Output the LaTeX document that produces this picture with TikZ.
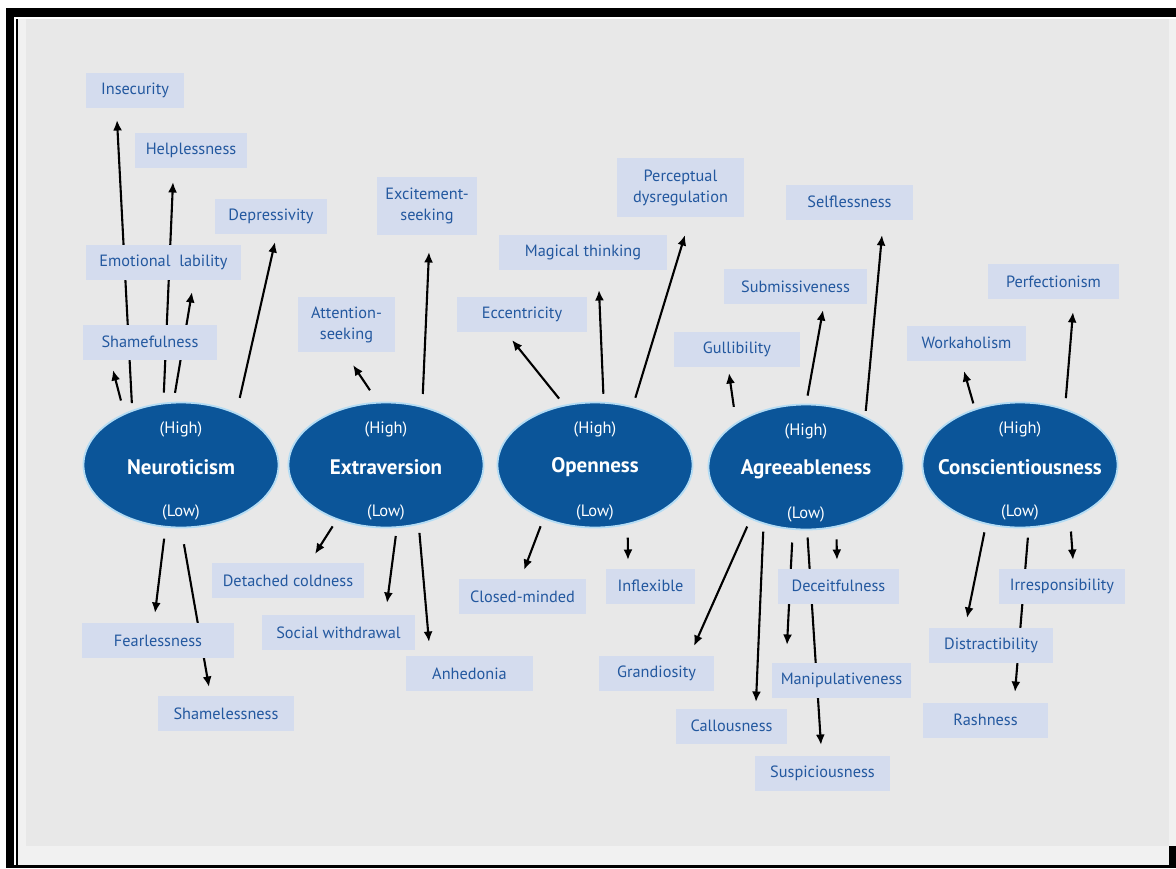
\documentclass[tikz,border=0pt]{standalone}
\usepackage{fontspec}
\setmainfont{PT Sans}
\usetikzlibrary{arrows.meta,shapes.geometric}

\definecolor{pagebg}{HTML}{E8E8E8}
\definecolor{rimbg}{HTML}{F1F1F1}
\definecolor{traitblue}{HTML}{0B5599}
\definecolor{halo}{HTML}{B4DCF4}
\definecolor{boxfill}{HTML}{D4DCEE}
\definecolor{boxtext}{HTML}{23589F}

\tikzset{
  trait/.style={ellipse, fill=traitblue, draw=halo, line width=1.8pt,
    minimum width=195pt, minimum height=125pt, inner sep=0pt, outer sep=0pt},
  pole/.style={text=white, font=\fontsize{16.5}{18}\selectfont, inner sep=0pt},
  traitname/.style={text=white, font=\fontsize{21}{23}\selectfont\bfseries, inner sep=0pt},
  facet/.style={fill=boxfill, text=boxtext, font=\fontsize{16.3}{21}\selectfont,
    minimum height=35pt, inner sep=0pt, align=center},
  arr/.style={draw=black, line width=2.1pt, -{Latex[length=10.5pt,width=9pt]}},
}

\begin{document}
\begin{tikzpicture}[x=1pt,y=-1pt]
% frame and page
\fill[white] (0,0) rectangle (1176,868);
\useasboundingbox (0,0) rectangle (1176,868);
\fill[black] (6,8) rectangle (1176,868);
\fill[white] (14,16.7) rectangle (1176,865);
\fill[black] (16,18.7) rectangle (18,865);
\fill[rimbg] (18,18.7) rectangle (1176,865);
\fill[pagebg] (26,19) rectangle (1169,846);
\fill[black] (1169,846) rectangle (1176,868);

% the five traits
\node[trait] (neu) at (181,465) {};
\node[trait] (ext) at (386,465) {};
\node[trait] (ope) at (595,465) {};
\node[trait] (agr) at (806,467) {};
\node[trait] (con) at (1020,465) {};

\foreach \t/\name in {neu/Neuroticism, ext/Extraversion, ope/Openness,
                      agr/Agreeableness, con/Conscientiousness}{
  \node[pole] (\t-hi) at ([yshift=36pt]\t.center) {(High)};
  \node[traitname] (\t-nm) at ([yshift=-2pt]\t.center) {\name};
  \node[pole] (\t-lo) at ([yshift=-47pt]\t.center) {(Low)};
}

% arrow tips
\coordinate (h-sham) at (113,370);
\coordinate (h-ins)  at (117,120);
\coordinate (h-help) at (173,182);
\coordinate (h-emo)  at (192,292);
\coordinate (h-dep)  at (275,242);
\coordinate (h-fear) at (155,613);
\coordinate (h-shl)  at (209,687);
\coordinate (h-att)  at (353,365);
\coordinate (h-exc)  at (429,252);
\coordinate (h-det)  at (315,554);
\coordinate (h-soc)  at (387,603);
\coordinate (h-anh)  at (429,642);
\coordinate (h-ecc)  at (512,340);
\coordinate (h-mag)  at (599,290);
\coordinate (h-per)  at (685,235);
\coordinate (h-clo)  at (524,570);
\coordinate (h-infl) at (628,560);
\coordinate (h-gul)  at (729,373);
\coordinate (h-sub)  at (823,310);
\coordinate (h-self) at (882,235);
\coordinate (h-gra)  at (694,646);
\coordinate (h-cal)  at (756,702);
\coordinate (h-man)  at (787,645);
\coordinate (h-sus)  at (821,745);
\coordinate (h-dec)  at (837,560);
\coordinate (h-work) at (964,371);
\coordinate (h-perf) at (1073,312);
\coordinate (h-dis)  at (967,618);
\coordinate (h-rash) at (1015,692);
\coordinate (h-irr)  at (1073,560);

% Neuroticism
\draw[arr, shorten <=14pt]   (neu.138.4) -- (h-sham);
\draw[arr, shorten <=7.7pt]  (neu.132.4) -- (h-ins);
\draw[arr, shorten <=11pt]   (neu.106.6) -- (h-help);
\draw[arr, shorten <=10pt]   (neu.97)    -- (h-emo);
\draw[arr, shorten <=16pt]   (neu.43.2)  -- (h-dep);
\draw[arr, shorten <=12pt]   (neu.256.9) -- (h-fear);
\draw[arr, shorten <=17pt]   (neu.270)   -- (h-shl);
% Extraversion
\draw[arr, shorten <=15pt]   (ext.97)    -- (h-att);
\draw[arr, shorten <=13pt]   (ext.58.9)  -- (h-exc);
\draw[arr, shorten <=8.6pt]  (ext.228.7) -- (h-det);
\draw[arr, shorten <=9pt]    (ext.280.2) -- (h-soc);
\draw[arr, shorten <=9pt]    (ext.299.4) -- (h-anh);
% Openness
\draw[arr, shorten <=9pt]    (ope.117.7) -- (h-ecc);
\draw[arr, shorten <=9pt]    (ope.82.4)  -- (h-mag);
\draw[arr, shorten <=10pt]   (ope.57.6)  -- (h-per);
\draw[arr, shorten <=8.7pt]  (ope.226.7) -- (h-clo);
\draw[arr, shorten <=13.7pt] (ope.299.1) -- (h-infl);
% Agreeableness
\draw[arr, shorten <=16.7pt] (agr.148.6) -- (h-gul);
\draw[arr, shorten <=9pt]    (agr.90.6)  -- (h-sub);
\draw[arr, shorten <=6.5pt]  (agr.40.8)  -- (h-self);
\draw[arr, shorten <=8.8pt]  (agr.223.2) -- (h-gra);
\draw[arr, shorten <=8.3pt]  (agr.233)   -- (h-cal);
\draw[arr, shorten <=13.6pt] (agr.258)   -- (h-man);
\draw[arr, shorten <=8pt]    (agr.271.4) -- (h-sus);
\draw[arr, shorten <=13pt]   (agr.297.4) -- (h-dec);
% Conscientiousness
\draw[arr, shorten <=6.4pt]  (con.129)   -- (h-work);
\draw[arr, shorten <=11.4pt] (con.51)    -- (h-perf);
\draw[arr, shorten <=8.9pt]  (con.240.8) -- (h-dis);
\draw[arr, shorten <=10.4pt] (con.278.1) -- (h-rash);
\draw[arr, shorten <=12.9pt] (con.313.5) -- (h-irr);

% facet boxes (drawn over the arrows)
\node[facet, minimum width=98pt]  (ins)  at (135,90)     {Insecurity};
\node[facet, minimum width=112pt] (help) at (191,150.5)  {Helplessness};
\node[facet, minimum width=112pt] (dep)  at (271,216.5)  {Depressivity};
\node[facet, minimum width=155pt] (emo)  at (163.5,262.5){Emotional\ \ lability};
\node[facet, minimum width=134pt] (sham) at (150,342)    {Shamefulness};
\node[facet, minimum width=97pt, minimum height=55pt]  (att) at (346.5,324.5) {Attention-\\seeking};
\node[facet, minimum width=100pt, minimum height=58pt] (exc) at (427,206)     {Excitement-\\seeking};
\node[facet, minimum width=127pt, minimum height=59pt] (per) at (680.5,187.5) {Perceptual\\dysregulation};
\node[facet, minimum width=168pt] (mag)  at (583,252.5)  {Magical thinking};
\node[facet, minimum width=130pt] (ecc)  at (522,314.5)  {Eccentricity};
\node[facet, minimum width=126pt] (gul)  at (737,349.5)  {Gullibility};
\node[facet, minimum width=143pt] (sub)  at (795.5,286.5){Submissiveness};
\node[facet, minimum width=127pt] (self) at (849.5,202)  {Selflessness};
\node[facet, minimum width=131pt] (perf) at (1053.5,281.5){Perfectionism};
\node[facet, minimum width=119pt] (work) at (966.5,343)  {Workaholism};
\node[facet, minimum width=152pt] (det)  at (288,580.5)  {Detached coldness};
\node[facet, minimum width=153pt] (soc)  at (338.5,632.5){Social withdrawal};
\node[facet, minimum width=152pt] (fear) at (158,640.5)  {Fearlessness};
\node[facet, minimum width=136pt] (shl)  at (226,713.5)  {Shamelessness};
\node[facet, minimum width=127pt] (anh)  at (469.5,673.5){Anhedonia};
\node[facet, minimum width=127pt] (clo)  at (522.5,596.5){Closed-minded};
\node[facet, minimum width=89pt]  (infl) at (650.5,586)  {Inflexible};
\node[facet, minimum width=115pt] (gra)  at (656.5,673.5){Grandiosity};
\node[facet, minimum width=111pt] (cal)  at (731.5,726)  {Callousness};
\node[facet, minimum width=121pt] (dec)  at (838.5,586)  {Deceitfulness};
\node[facet, minimum width=139pt] (man)  at (841.5,680)  {Manipulativeness};
\node[facet, minimum width=135pt] (sus)  at (822.5,773.5){Suspiciousness};
\node[facet, minimum width=126pt] (irr)  at (1062,586.5) {Irresponsibility};
\node[facet, minimum width=124pt] (dis)  at (991,645.5)  {Distractibility};
\node[facet, minimum width=125pt] (rash) at (985.5,720)  {Rashness};
\end{tikzpicture}
\end{document}
